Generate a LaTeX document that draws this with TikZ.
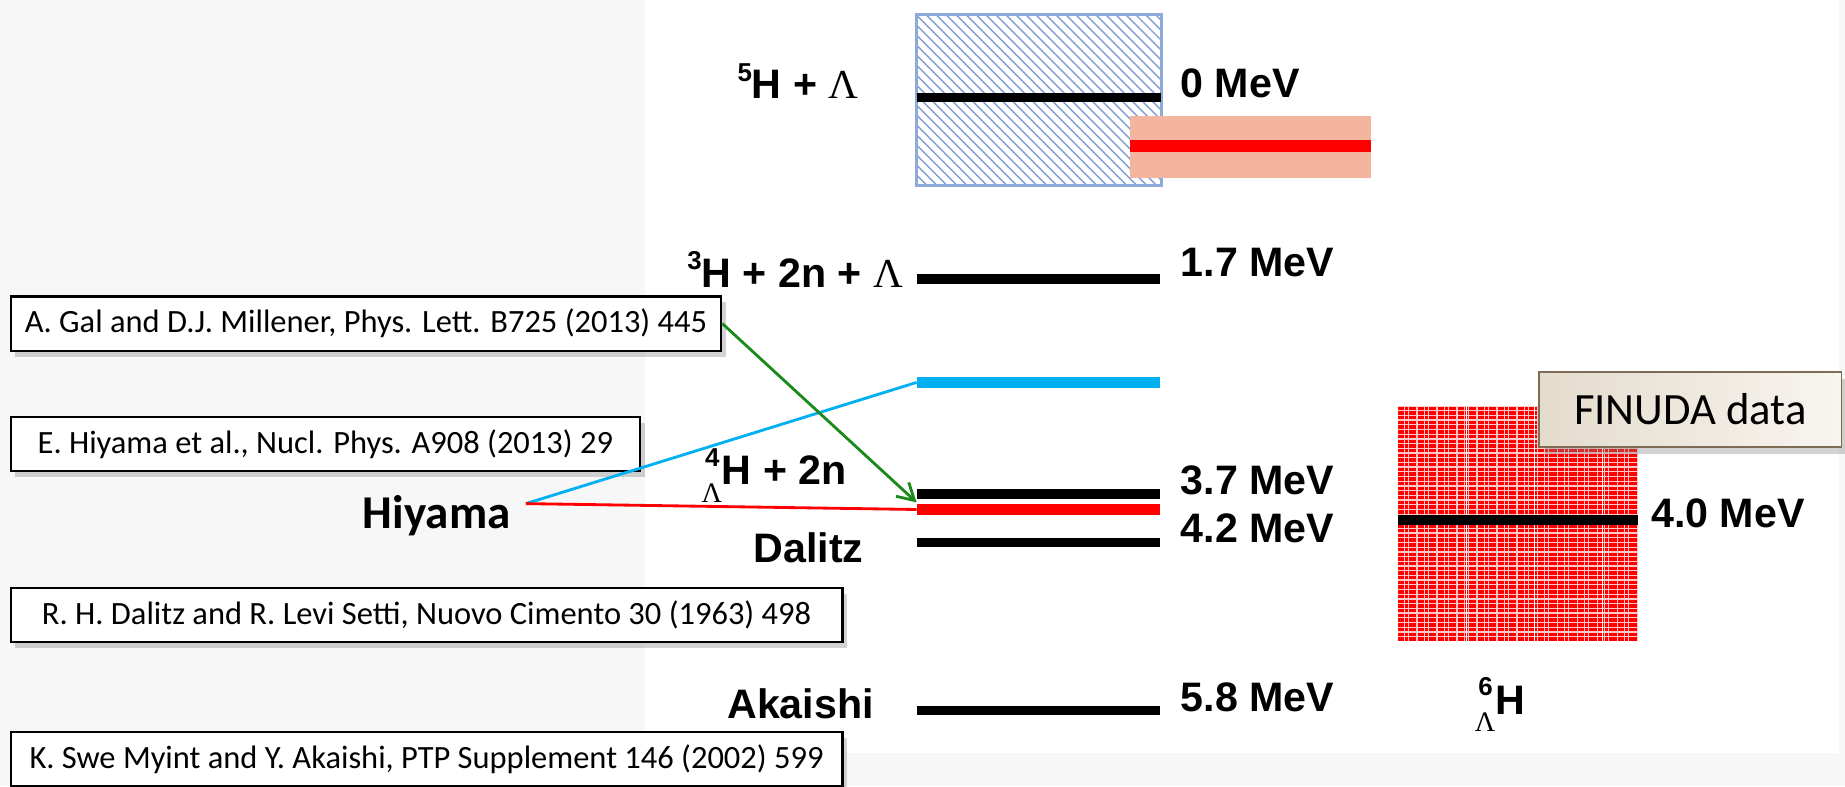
\documentclass[tikz,border=0pt]{standalone}
\usepackage{fontspec}
\setmainfont{Carlito}
\newfontfamily\arl{Liberation Sans}
\newfontfamily\serifL{Liberation Serif}
\usetikzlibrary{patterns.meta,shadows,arrows.meta}
\definecolor{hatchblue}{HTML}{8EAADB}
\definecolor{hatchline}{HTML}{7F9DD6}
\definecolor{salmon}{HTML}{F4B59E}
\definecolor{cyanbar}{HTML}{00B0F0}
\definecolor{greenarr}{HTML}{1A8A1A}
\definecolor{finborder}{HTML}{7D6B55}
\definecolor{finL}{HTML}{E4DBCC}
\definecolor{finR}{HTML}{F8F5F0}
\newcommand\lam{{\serifL\mdseries Λ}}
\newcommand\sups[1]{\raisebox{0.42em}{\fontsize{11}{11}\selectfont #1}}
\newcommand\presc[2]{\mbox{\rlap{\hspace{1.5pt}\raisebox{0.45em}{\fontsize{11}{11}\selectfont #1}}\raisebox{-0.42em}{\serifL\mdseries\fontsize{12}{12}\selectfont #2}}}
\begin{document}
\begin{tikzpicture}[x=0.5pt,y=-0.5pt,
  bar/.style={line width=4pt},
  thickbar/.style={line width=5pt},
  refbox/.style={draw=black, line width=0.9pt, fill=white, inner sep=0pt,
    minimum height=23pt, font=\fontsize{13.8}{15}\selectfont,
    drop shadow={shadow xshift=2pt, shadow yshift=-2.5pt, opacity=0.35}},
  lab/.style={inner sep=0pt, font=\arl\bfseries\fontsize{17.5}{20}\selectfont},
  conn/.style={line width=1.2pt}]
\useasboundingbox (0,0) rectangle (1568,668);
\fill[black!3] (0,0) rectangle (1568,668);
\fill[white] (548,0) rectangle (1563,640);

% hatched box
\fill[pattern={Lines[angle=-45,distance=3pt,line width=0.6pt]}, pattern color=hatchline] (779,12) rectangle (987,158);
\draw[hatchblue, line width=1.3pt] (779,12) rectangle (987,158);
\draw[bar] (779,83) -- (987,83);
% salmon band
\fill[salmon] (960,99) rectangle (1165,151);
\draw[thickbar, red] (960,124) -- (1165,124);

% levels
\draw[bar] (779,237) -- (986,237);
\draw[thickbar, cyanbar] (779,325) coordinate (cyanL) -- (986,325);
\draw[bar] (779,420) -- (986,420);
\draw[thickbar, red] (779,433) coordinate (redL) -- (986,433);
\draw[bar] (779,461) -- (986,461);
\draw[bar] (779,604) -- (986,604);
\coordinate (tipG) at (779,427);

% red FINUDA pattern
\begin{scope}
\clip (1188,345) rectangle (1392,545);
\fill[red!22] (1188,345) rectangle (1392,545);
\foreach \r in {0,...,49} {
  \draw[red, line width=1.45pt, dash pattern=on 2.4pt off 0.6pt on 1.2pt off 0.7pt on 3pt off 0.6pt]
    (1188,{347+4*\r}) -- (1392,{347+4*\r});
}
\foreach \c in {1246,1304,1362} { \draw[white, line width=0.5pt] (\c,345) -- (\c,545); }
\end{scope}
\draw[bar] (1188,442) -- (1392,442);

% labels
\node[lab, anchor=base east] (l5h) at (730,84) {\sups{5}H + \lam};
\node[lab, anchor=base west] (e0) at (1003,83) {0 MeV};
\node[lab, anchor=base east] (l3h) at (768,244) {\sups{3}H + 2n + \lam};
\node[lab, anchor=base west] (e17) at (1003,235) {1.7 MeV};
\node[lab, anchor=base east] (l4h) at (720,412) {\presc{4}{Λ}H + 2n};
\node[lab, anchor=base west] (e37) at (1003,420) {3.7 MeV};
\node[lab, anchor=base west] (e42) at (1003,461) {4.2 MeV};
\node[lab, anchor=base west] (ldal) at (640,478) {Dalitz};
\node[lab, anchor=base east] (laka) at (743,611) {Akaishi};
\node[lab, anchor=base west] (e58) at (1003,605) {5.8 MeV};
\node[lab, anchor=base west] (e40) at (1403,448) {4.0 MeV};
\node[lab, anchor=base west] (l6h) at (1253,607) {\presc{6}{Λ}H};

% reference boxes
\node[refbox, minimum width=302pt] (gal) at (311,275) {A. Gal and D.J. Millener, Phys. Lett. B725 (2013) 445};
\node[refbox, minimum width=267.5pt] (hiy) at (276.5,377.5) {E. Hiyama et al., Nucl. Phys. A908 (2013) 29};
\node[refbox, minimum width=353.5pt] (dal) at (362.5,522.5) {R. H. Dalitz and R. Levi Setti, Nuovo Cimento 30 (1963) 498};
\node[refbox, minimum width=353.5pt] (aka) at (362.5,645) {K. Swe Myint and Y. Akaishi, PTP Supplement 146 (2002) 599};

% FINUDA label
\node[draw=finborder, line width=0.8pt, left color=finL, right color=finR, inner sep=0pt,
  minimum width=128.5pt, minimum height=32pt, font=\fontsize{19}{22}\selectfont,
  drop shadow={shadow xshift=2.5pt, shadow yshift=-3pt, opacity=0.35}] (fin) at (1436.5,348) {FINUDA data};

% Hiyama
\node[inner sep=0pt, anchor=base west, font=\bfseries\fontsize{20}{24}\selectfont] (hiyama) at (308,449) {Hiyama};
\coordinate (hiyP) at (447,428);
\draw[conn, cyanbar] (hiyP) -- (cyanL);
\draw[conn, red] (hiyP) -- (redL);
\draw[conn, greenarr, -{Straight Barb[length=7pt,width=8pt]}] (gal.east) -- (tipG);
\end{tikzpicture}
\end{document}
